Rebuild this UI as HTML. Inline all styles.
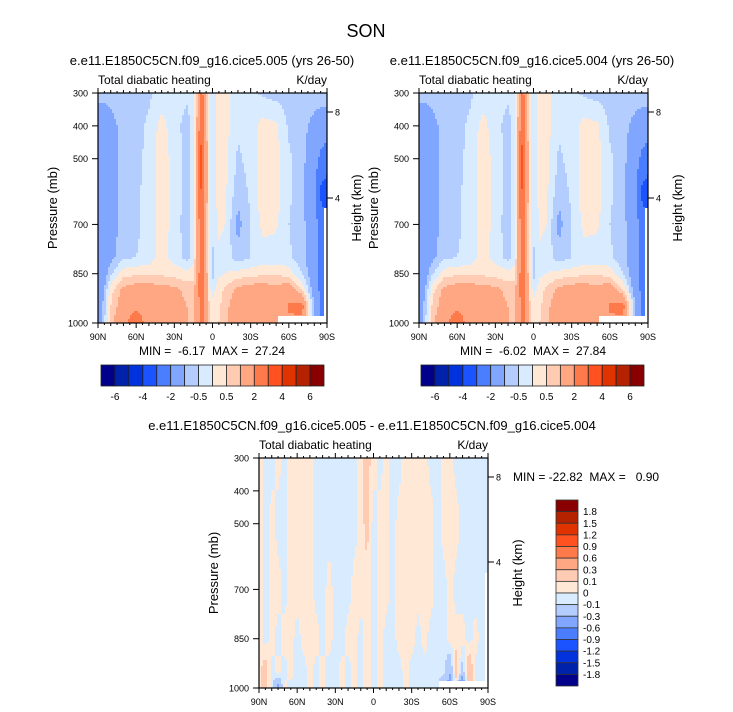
<!DOCTYPE html>
<html><head><meta charset="utf-8">
<style>
html,body{margin:0;padding:0;background:#fff;}
svg{display:block;font-family:"Liberation Sans",Arial,sans-serif;}
text{white-space:pre;}
</style></head>
<body>
<svg id="fig" width="733" height="712" viewBox="0 0 733 712" xmlns="http://www.w3.org/2000/svg">
<text x="366" y="37" font-size="18" text-anchor="middle">SON</text>
</svg>
<script>
// ---- data ----
const topLats = [90,85,80,70,60,50,40,30,20,15,12,9,6,3,0,-5,-10,-20,-30,-40,-50,-60,-70,-80,-85,-90];
const topPres = [300,400,500,600,700,800,850,900,950,1000];
const heat005 = [
[-0.8,-0.8,-0.8,-0.7,-0.7,-0.6,-0.3,-0.3,-0.4,-0.2,0.8,2.5,1.5,0.2,-0.2,0.3,0.2,-0.3,-0.4,-0.6,-0.7,-0.7,-0.7,-0.7,-0.6,-0.6],
[-1.5,-1.5,-1.2,-0.8,-0.7,-0.4,0.2,-0.3,-0.7,-0.3,1.2,2.8,1.8,0.3,-0.2,0.3,0.2,-0.4,-0.2,0.2,0.1,-0.6,-0.8,-1.2,-1.5,-1.5],
[-1.5,-1.5,-1.3,-0.8,-0.7,-0.3,0.3,-0.2,-0.7,-0.3,1.5,3.2,2.0,0.3,-0.2,0.3,0.2,-0.6,-0.3,0.3,0.2,-0.4,-0.8,-1.5,-2.2,-2.5],
[-1.5,-1.5,-1.3,-0.8,-0.6,-0.3,0.3,-0.2,-0.7,-0.3,1.5,3.0,2.0,0.3,-0.3,0.2,0.1,-0.8,-0.4,0.3,0.2,-0.4,-0.8,-1.8,-3.2,-3.5],
[-1.5,-1.5,-1.3,-0.8,-0.6,-0.3,0.3,-0.2,-0.8,-0.3,1.4,2.6,1.8,0.2,-0.4,0.1,0.0,-1.2,-0.5,0.2,0.1,-0.5,-0.8,-1.5,-2.5,-3.0],
[-1.5,-1.5,-1.2,-0.6,-0.5,-0.3,0.2,-0.2,-0.7,-0.2,1.4,2.5,1.8,0.2,-0.6,-0.1,-0.2,-0.8,-0.5,-0.3,-0.3,-0.4,-0.8,-1.5,-2.3,-2.5],
[-1.5,-1.3,-0.6,0.3,0.4,0.4,0.4,0.3,0.2,0.3,1.5,2.6,1.9,0.3,-0.7,-0.1,0.0,0.2,0.3,0.4,0.4,0.3,-0.5,-1.5,-2.2,-2.5],
[-1.5,-1.0,0.3,1.2,1.4,1.4,1.3,1.2,0.8,0.7,1.6,2.5,1.8,0.4,-0.2,0.3,0.6,1.2,1.4,1.4,1.3,1.5,0.6,-1.5,-2.2,-2.5],
[-1.5,-0.8,0.5,1.5,1.8,1.6,1.5,1.4,1.0,0.9,1.6,2.4,1.8,0.6,0.2,0.4,0.8,1.5,1.6,1.5,1.5,2.1,2.5,-1.0,-2.0,-2.5],
[-1.5,-0.5,0.8,1.8,2.6,1.6,1.5,1.4,1.0,0.9,1.6,2.3,1.8,0.8,0.3,0.5,0.8,1.5,1.6,1.5,1.5,1.8,1.5,-1.0,-2.0,-2.5]
];
const heat004 = [
[-0.8,-0.8,-0.8,-0.7,-0.7,-0.6,-0.3,-0.3,-0.4,-0.2,0.8,2.5,1.5,0.2,-0.2,0.3,0.2,-0.3,-0.4,-0.6,-0.7,-0.7,-0.7,-0.7,-0.6,-0.6],
[-1.5,-1.5,-1.2,-0.8,-0.7,-0.4,0.2,-0.3,-0.7,-0.3,1.2,2.8,1.8,0.3,-0.2,0.3,0.2,-0.4,-0.2,0.2,0.1,-0.6,-0.8,-1.2,-1.5,-1.5],
[-1.5,-1.5,-1.3,-0.8,-0.7,-0.3,0.3,-0.2,-0.7,-0.3,1.5,3.2,2.0,0.3,-0.2,0.3,0.2,-0.6,-0.3,0.3,0.2,-0.4,-0.8,-1.5,-2.2,-2.5],
[-1.5,-1.5,-1.3,-0.8,-0.6,-0.3,0.3,-0.2,-0.7,-0.3,1.5,3.0,2.0,0.3,-0.3,0.2,0.1,-0.8,-0.4,0.3,0.2,-0.4,-0.8,-1.8,-3.2,-3.5],
[-1.5,-1.5,-1.3,-0.8,-0.6,-0.3,0.3,-0.2,-0.8,-0.3,1.4,2.6,1.8,0.2,-0.4,0.1,0.0,-1.2,-0.5,0.2,0.1,-0.5,-0.8,-1.5,-2.5,-3.0],
[-1.5,-1.5,-1.2,-0.6,-0.5,-0.3,0.2,-0.2,-0.7,-0.2,1.4,2.5,1.8,0.2,-0.6,-0.1,-0.2,-0.8,-0.5,-0.3,-0.3,-0.4,-0.8,-1.5,-2.3,-2.5],
[-1.5,-1.3,-0.6,0.3,0.4,0.4,0.4,0.3,0.2,0.3,1.5,2.6,1.9,0.3,-0.7,-0.1,0.0,0.2,0.3,0.4,0.4,0.3,-0.5,-1.5,-2.2,-2.5],
[-1.5,-1.0,0.3,1.2,1.4,1.4,1.3,1.2,0.8,0.7,1.6,2.5,1.8,0.4,-0.2,0.3,0.6,1.2,1.4,1.4,1.3,1.5,0.6,-1.5,-2.2,-2.5],
[-1.5,-0.8,0.5,1.5,1.8,1.6,1.5,1.4,1.0,0.9,1.6,2.4,1.8,0.6,0.2,0.4,0.8,1.5,1.6,1.5,1.5,2.1,2.5,-1.0,-2.0,-2.5],
[-1.5,-0.5,0.8,1.8,2.6,1.6,1.5,1.4,1.0,0.9,1.6,2.3,1.8,0.8,0.3,0.5,0.8,1.5,1.6,1.5,1.5,1.8,1.5,-1.0,-2.0,-2.5]
];
const diffLats = [90,85,80,75,70,65,60,55,50,45,40,35,30,25,20,15,10,5,0,-5,-10,-15,-20,-25,-30,-35,-40,-45,-50,-55,-60,-65,-70,-75,-80,-85,-90];
const diffPres = [300,500,700,850,950,1000];
const heatDiff = [
[.05,-.05,-.05,.05,-.05,.05,.05,.05,.05,-.05,-.05,-.05,-.05,-.05,-.05,-.05,.05,.15,.05,-.05,.05,-.05,-.05,.05,.05,.05,.05,-.05,-.05,.05,.05,-.05,-.05,-.05,-.05,-.05,-.05],
[.05,-.05,.05,-.05,-.05,.05,.05,.05,.05,-.05,-.05,-.05,-.05,-.05,-.05,-.05,.05,.15,-.05,.05,.05,-.05,.05,.05,.05,.05,.05,.05,-.05,.05,.05,.05,-.05,-.05,-.05,-.05,-.05],
[.05,-.05,.05,.05,-.05,.05,.05,.05,.05,-.05,-.05,.05,-.05,-.05,-.05,.05,.05,.05,-.05,.05,.05,-.05,.05,.05,.05,.05,.05,.05,-.05,-.05,.05,-.05,-.05,-.05,-.05,-.05,-.05],
[.05,-.05,.05,-.05,.05,.05,-.05,.05,.05,.05,-.05,.05,-.05,-.05,.05,.05,-.05,.05,-.05,.05,-.05,-.05,.05,.05,.05,-.05,.05,-.05,-.05,-.05,.05,.05,.05,-.05,.05,-.05,-.05],
[.05,.2,-.05,.05,-.05,.05,-.05,-.05,.05,-.05,.05,-.05,-.05,.05,-.05,.05,-.05,.05,-.05,.05,-.05,-.05,-.05,.05,-.05,-.05,-.05,-.05,-.05,-.05,-.3,.2,-.2,.3,-.05,-.05,-.05],
[.05,.2,-.05,-.4,.05,-.05,-.05,-.05,.05,-.05,.05,-.05,-.05,.05,-.05,.05,-.05,.05,-.05,.05,-.05,-.05,-.05,.05,-.05,-.05,-.05,-.05,-.05,-.3,-.4,-.05,-.8,.3,-.05,-.05,-.05]
];
const topLevels = [-6,-5,-4,-3,-2,-1,-0.5,0,0.5,1,2,3,4,5,6];
const topLevelLabels = ["-6","-4","-2","-0.5","0.5","2","4","6"];
const diffLevels = [-1.8,-1.5,-1.2,-0.9,-0.6,-0.3,-0.1,0,0.1,0.3,0.6,0.9,1.2,1.5,1.8];
const colors = ["#00008a","#0022aa","#0033dd","#1a53ff","#4a7eff","#80a6ff","#b3cdff","#d9ecff","#ffe8d6","#ffcbb3","#ffa683","#ff7a4a","#ff5220","#e03300","#b52200","#8a0000"];
const latTicks = [90,60,30,0,-30,-60,-90];
const latTickLabels = ["90N","60N","30N","0","30S","60S","90S"];
const presTicks = [300,400,500,700,850,1000];
const hgtTicks = [8,4];

const NS="http://www.w3.org/2000/svg";
const svg=document.getElementById('fig');
function mk(tag,attrs,parent){const e=document.createElementNS(NS,tag);for(const k in attrs)e.setAttribute(k,attrs[k]);(parent||svg).appendChild(e);return e;}
function txt(s,attrs,parent){const e=mk('text',attrs,parent);e.textContent=s;return e;}

function interp1(arr,v){
  const inc=arr[1]>arr[0];
  for(let i=0;i<arr.length-1;i++){
    const a=arr[i],b=arr[i+1];
    if(inc?(v>=a&&v<=b):(v<=a&&v>=b)) return [i,(v-a)/(b-a)];
  }
  const first=inc?v<arr[0]:v>arr[0];
  return first?[0,0]:[arr.length-2,1];
}
function sample(lats,pres,grid,lat,p){
  const [i,fx]=interp1(lats,lat), [j,fy]=interp1(pres,p);
  const a=grid[j][i],b=grid[j][i+1],c=grid[j+1][i],d=grid[j+1][i+1];
  return (a*(1-fx)+b*fx)*(1-fy)+(c*(1-fx)+d*fx)*fy;
}
function colorFor(v,levels){let k=0;while(k<levels.length&&v>=levels[k])k++;return colors[k];}

function panel(o){
  const g=mk('g',{});
  
  
  const W=o.x1-o.x0,H=o.y1-o.y0;
  const xOf=lat=>o.x0+(90-lat)/180*W;
  const yOf=p=>o.y0+(p-300)/700*H;
  const latOf=x=>90-(x-o.x0)/W*180;
  const pOf=y=>300+(y-o.y0)/H*700;
  const field=mk('g',{},g);
  
  
  const st=2;
  for(let y=o.y0;y<o.y1;y+=st){
    let runStart=o.x0,runCol=null;
    const p=pOf(Math.min(y+st/2,o.y1));
    const hh=Math.min(st,o.y1-y)+0.5;
    for(let x=o.x0;;x+=st){
      const end=x>=o.x1;
      let col=null;
      if(!end){col=colorFor(sample(o.lats,o.pres,o.grid,latOf(Math.min(x+st/2,o.x1)),p),o.levels);}
      if(col!==runCol){
        if(runCol!==null){
          const r=mk('rect',{x:runStart,y:y,width:Math.min(x,o.x1)-runStart+0.5,height:hh,fill:runCol},field);
          
          
        }
        runStart=x;runCol=col;
      }
      if(end)break;
    }
  }
  const m1=mk('rect',{x:o.x1-49,y:o.y1-7,width:49,height:7,fill:"#fff"},g);
  
  
  const m2=mk('rect',{x:o.x1-3,y:o.y0+115,width:3,height:H-115,fill:"#fff"},g);
  
  
  mk('rect',{x:o.x0,y:o.y0,width:W,height:H,fill:"none",stroke:"#000","stroke-width":1.2},g);
  for(let lat=90;lat>=-90;lat-=5){
    const x=xOf(lat),major=lat%30===0,len=major?5:(lat%10===0?3:2);
    mk('line',{x1:x,x2:x,y1:o.y1,y2:o.y1+len,stroke:"#000","stroke-width":1},g);
    mk('line',{x1:x,x2:x,y1:o.y0,y2:o.y0-len,stroke:"#000","stroke-width":1},g);
  }
  latTicks.forEach((lat,i)=>{
    const t=txt(latTickLabels[i],{x:xOf(lat),y:o.y1+17,"font-size":9,"text-anchor":"middle"},g);
    
    
  });
  presTicks.forEach(p=>{
    const y=yOf(p);
    mk('line',{x1:o.x0-6,x2:o.x0,y1:y,y2:y,stroke:"#000","stroke-width":1},g);
    const t=txt(String(p),{x:o.x0-10,y:y+3.5,"font-size":9,"text-anchor":"end"},g);
    
    
  });
  hgtTicks.forEach((h,i)=>{
    const y=o.hy[i];
    mk('line',{x1:o.x1,x2:o.x1+6,y1:y,y2:y,stroke:"#000","stroke-width":1},g);
    const t=txt(String(h),{x:o.x1+8,y:y+3.5,"font-size":9},g);
    
    
  });
  const yl=txt("Pressure (mb)",{x:0,y:0,"font-size":13,"text-anchor":"middle",transform:`translate(${o.x0-41},${(o.y0+o.y1)/2}) rotate(-90)`},g);
  
  
  const hl=txt("Height (km)",{x:0,y:0,"font-size":13,"text-anchor":"middle",transform:`translate(${o.x1+34},${(o.y0+o.y1)/2}) rotate(-90)`},g);
  
  
  const t1=txt("Total diabatic heating",{x:o.x0,y:o.y0-9,"font-size":12},g);
  
  
  const t2=txt("K/day",{x:o.x1,y:o.y0-9,"font-size":12,"text-anchor":"end"},g);
  
  
  const t3=txt(o.title,{x:o.tx,y:o.y0-28,"font-size":13,"text-anchor":"middle"},g);
  
  
  const t4=txt(o.minmax,{x:o.mmx,y:o.mmy,"font-size":12,"text-anchor":o.mmAnchor},g);
  
  
}

panel({name:'panel-005',x0:98,x1:327,y0:93,y1:323,lats:topLats,pres:topPres,grid:heat005,levels:topLevels,hy:[112,198],
  title:"e.e11.E1850C5CN.f09_g16.cice5.005 (yrs 26-50)",tx:212,minmax:"MIN =  -6.17  MAX =  27.24",mmx:212,mmy:355,mmAnchor:"middle"});
panel({name:'panel-004',x0:419,x1:648,y0:93,y1:323,lats:topLats,pres:topPres,grid:heat004,levels:topLevels,hy:[112,198],
  title:"e.e11.E1850C5CN.f09_g16.cice5.004 (yrs 26-50)",tx:532,minmax:"MIN =  -6.02  MAX =  27.84",mmx:533,mmy:355,mmAnchor:"middle"});
panel({name:'panel-difference',x0:259,x1:488,y0:458,y1:688,lats:diffLats,pres:diffPres,grid:heatDiff,levels:diffLevels,hy:[477,562],
  title:"e.e11.E1850C5CN.f09_g16.cice5.005 - e.e11.E1850C5CN.f09_g16.cice5.004",tx:372,minmax:"MIN = -22.82  MAX =   0.90",mmx:513,mmy:481,mmAnchor:"start"});

function hbar(x0,x1,y0,y1,name){
  const g=mk('g',{});
  
  
  const w=(x1-x0)/colors.length;
  colors.forEach((c,i)=>{
    const r=mk('rect',{x:x0+i*w,y:y0,width:w,height:y1-y0,fill:c,stroke:"#222","stroke-width":0.8},g);
    
    
  });
  topLevelLabels.forEach((s,k)=>{
    const t=txt(s,{x:x0+(2*k+1)*w,y:y1+14,"font-size":10,"text-anchor":"middle"},g);
    
    
  });
}
hbar(101,324,365,386,'colorbar-005');
hbar(421,644,365,386,'colorbar-004');
(function(){
  const g=mk('g',{});
  
  
  const x0=556,x1=578,y0=500,y1=686,h=(y1-y0)/colors.length;
  colors.slice().reverse().forEach((c,i)=>{
    const r=mk('rect',{x:x0,y:y0+i*h,width:x1-x0,height:h,fill:c,stroke:"#333","stroke-width":0.8},g);
    
    
  });
  diffLevels.slice().reverse().forEach((v,i)=>{
    const s=(v===0?"0":(v<0?"-":"")+Math.abs(v).toFixed(1));
    const t=txt(s,{x:x0+27,y:y0+(i+1)*h+3.5,"font-size":10},g);
    
    
  });
})();
</script>
</body></html>
